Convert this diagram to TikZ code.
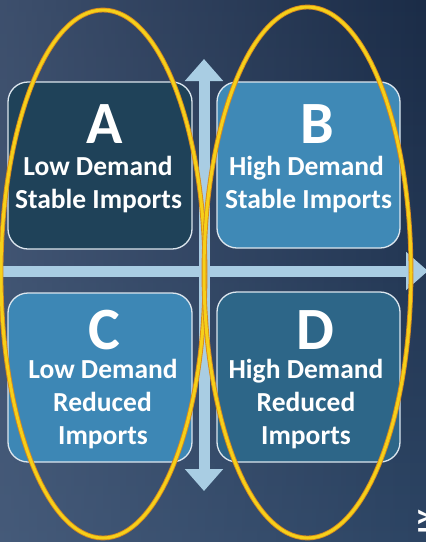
\documentclass[tikz,border=0pt]{standalone}
\usepackage{fontspec}
\setmainfont{Carlito}
\usetikzlibrary{arrows.meta,fadings}
\definecolor{bgtop}{HTML}{1B2C47}
\definecolor{bgbot}{HTML}{2C4463}
\definecolor{bglight}{HTML}{5A6D8C}
\definecolor{quadA}{HTML}{1F4259}
\definecolor{quadB}{HTML}{3F89B6}
\definecolor{quadC}{HTML}{3D87B5}
\definecolor{quadD}{HTML}{2D6688}
\definecolor{boxline}{HTML}{DCE6EE}
\definecolor{axisblue}{HTML}{A9CDE3}
\definecolor{ringedge}{HTML}{D98A1C}
\definecolor{ringcore}{HTML}{F5D01A}
\tikzset{bigtip/.tip={Triangle[length=22pt, width=37pt]}}

\begin{document}
\begin{tikzpicture}[x=1pt, y=-1pt,
quad/.style={draw=boxline, line width=1.3pt, rounded corners=20pt, inner sep=0, minimum width=184pt},
big/.style={anchor=base, inner sep=0, text=white, font=\fontsize{60}{60}\selectfont\bfseries},
lbl/.style={anchor=base, inner sep=0, text=white, font=\fontsize{27.5}{33}\selectfont\bfseries},
axis/.style={draw=axisblue, line width=11pt},
ring/.style={draw=ringedge, double=ringcore, double distance=3pt, line width=0.9pt},
]

%%%%%%%%%%%% SIZE OF THE SLIDE
\useasboundingbox (0,0) rectangle (426,542);
\clip (0,0) rectangle (426,542);
\shade[top color=bgtop, bottom color=bgbot] (0,0) rectangle (426,542);
\fill[bglight, path fading=east, opacity=.55] (0,0) rectangle (426,542);

%%%%%%%%%%%% AXES
\coordinate (vtop) at (204,59);
\coordinate (vbot) at (204,491);
\coordinate (hleft) at (-5,271);
\coordinate (hright) at (428,271);
\draw[axis, bigtip-bigtip] (vtop) -- (vbot);
\draw[axis, -bigtip] (hleft) -- (hright);

%%%%%%%%%%%% QUADRANTS
\node[quad, fill=quadA, minimum height=167pt] (boxA) at (100,165.5) {};
\node[quad, fill=quadB, minimum height=166pt, minimum width=183pt] (boxB) at (308.5,165) {};
\node[quad, fill=quadC, minimum height=169pt] (boxC) at (100,377.5) {};
\node[quad, fill=quadD, minimum height=170pt, minimum width=183pt] (boxD) at (308.5,377) {};

\node[big] (letA) at (105,143) {A};
\node[lbl] (lowA) at (98,175) {Low Demand};
\node[lbl] (stabA) at (98.5,208) {Stable Imports};

\node[big] (letB) at (317,143) {B};
\node[lbl] (highB) at (306.5,175) {High Demand};
\node[lbl] (stabB) at (308.5,208) {Stable Imports};

\node[big] (letC) at (104,349) {C};
\node[lbl] (lowC) at (103,378) {Low Demand};
\node[lbl] (redC) at (102.5,411) {Reduced};
\node[lbl] (impC) at (103,444) {Imports};

\node[big] (letD) at (315,349) {D};
\node[lbl] (highD) at (306,378) {High Demand};
\node[lbl] (redD) at (306,411) {Reduced};
\node[lbl] (impD) at (306,444) {Imports};

%%%%%%%%%%%% RINGS
\coordinate (ringL) at (103,274);
\coordinate (ringR) at (307.5,272.5);
\draw[ring] (ringL) ellipse [x radius=102, y radius=264];
\draw[ring] (ringR) ellipse [x radius=103.5, y radius=265.5];

%%%%%%%%%%%% CUT TEXT AT THE EDGE
\node[lbl, rotate=90, anchor=base west] (edge) at (436,534) {LY};

\end{tikzpicture}
\end{document}
